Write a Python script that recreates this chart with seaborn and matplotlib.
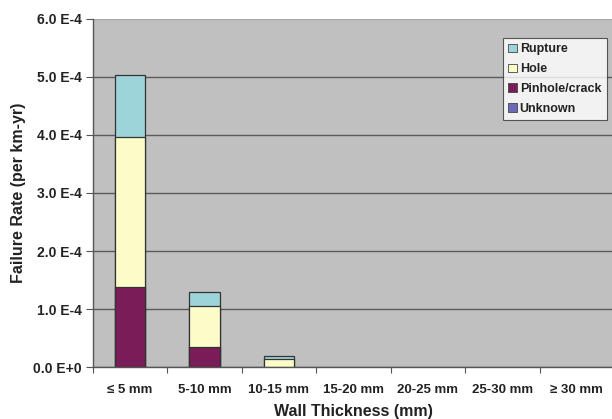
import matplotlib
matplotlib.use("Agg")
import matplotlib.pyplot as plt
from matplotlib.patches import Patch
from matplotlib.ticker import FixedLocator, FuncFormatter, NullFormatter
import numpy as np
import pandas as pd
import seaborn as sns

categories = ["≤ 5 mm", "5-10 mm", "10-15 mm", "15-20 mm", "20-25 mm", "25-30 mm", "≥ 30 mm"]
unknown = [0.0, 0.0, 0.0, 0.0, 0.0, 0.0, 0.0]
pinhole = [1.39e-4, 0.345e-4, 0.0, 0.0, 0.0, 0.0, 0.0]
hole = [2.58e-4, 0.715e-4, 0.14e-4, 0.0, 0.0, 0.0, 0.0]
rupture = [1.06e-4, 0.23e-4, 0.06e-4, 0.0, 0.0, 0.0, 0.0]

series_names = ["Rupture", "Hole", "Pinhole/crack", "Unknown"]
colors = {"Rupture": "#9dd4da", "Hole": "#fcfcc9", "Pinhole/crack": "#7a1c58", "Unknown": "#6a6ab8"}

sns.set_theme(style="white")
plt.rcParams["font.family"] = ["Liberation Sans", "DejaVu Sans"]
plt.rcParams["font.weight"] = "bold"

# cumulative stack heights (bottom to top: unknown, pinhole, hole, rupture)
u = np.array(unknown)
p = u + np.array(pinhole)
h = p + np.array(hole)
r = h + np.array(rupture)
layers = [("Rupture", r), ("Hole", h), ("Pinhole/crack", p), ("Unknown", u)]

fig = plt.figure(figsize=(6.12, 4.19), dpi=100)
ax = fig.add_axes([0.1515, 0.1234, 0.852, 0.832])
ax.set_facecolor("#c0c0c0")

for name, vals in layers:
    df = pd.DataFrame({"cat": categories, "val": vals})
    sns.barplot(data=df, x="cat", y="val", order=categories, color=colors[name],
                saturation=1, width=0.41, edgecolor="#333333", linewidth=0.9, ax=ax)

# hide edges of empty segments
for patch in ax.patches:
    if patch.get_height() <= 0:
        patch.set_linewidth(0)

ax.set_ylim(0, 6e-4)
ax.set_xlim(-0.5, 6.5)
ax.set_yticks(np.arange(0, 6.01e-4, 1e-4))
ax.yaxis.set_major_formatter(FuncFormatter(lambda v, pos: f"{v/1e-4:.1f} E-4" if v > 0 else "0.0 E+0"))
ax.yaxis.grid(True, color="#5a5a5a", linewidth=1.0)
ax.set_axisbelow(True)
ax.get_ygridlines()[-1].set_color("#a8a8a8")

ax.xaxis.set_major_locator(FixedLocator(np.arange(-0.5, 6.6, 1.0)))
ax.xaxis.set_major_formatter(NullFormatter())
ax.xaxis.set_minor_locator(FixedLocator(np.arange(0, 7)))
ax.set_xticklabels(categories, minor=True)
ax.tick_params(axis="x", which="major", direction="out", length=4, color="#555555", width=0.8, bottom=True)
ax.tick_params(axis="x", which="minor", length=0, pad=12, labelsize=9.5, labelcolor="#222222")
ax.tick_params(axis="y", direction="out", length=5, color="#555555", width=0.8, left=True,
               labelsize=10, labelcolor="#222222", pad=3)
for lbl in ax.get_xticklabels(minor=True) + ax.get_yticklabels():
    lbl.set_fontweight("bold")

for side in ["top", "right"]:
    ax.spines[side].set_visible(False)
for side in ["left", "bottom"]:
    ax.spines[side].set_color("#555555")
    ax.spines[side].set_linewidth(1.0)

ax.set_xlabel("Wall Thickness (mm)", fontsize=11.5, fontweight="bold", color="#222222", labelpad=6)
ax.set_ylabel("Failure Rate (per km-yr)", fontsize=11.5, fontweight="bold", color="#222222", labelpad=5)

handles = [Patch(facecolor=colors[n], edgecolor="#444444", linewidth=0.6, label=n) for n in series_names]
leg = ax.legend(handles=handles, loc="upper right", bbox_to_anchor=(0.986, 0.945),
                frameon=True, fancybox=False, fontsize=9, handlelength=0.65, handleheight=0.65,
                handletextpad=0.25, labelspacing=0.62, borderpad=0.45, borderaxespad=0)
leg.get_frame().set_edgecolor("#333333")
leg.get_frame().set_linewidth(0.8)
leg.get_frame().set_facecolor("white")
for t in leg.get_texts():
    t.set_fontweight("bold")
    t.set_color("#222222")

fig.savefig("out.png", dpi=100, facecolor="white")
